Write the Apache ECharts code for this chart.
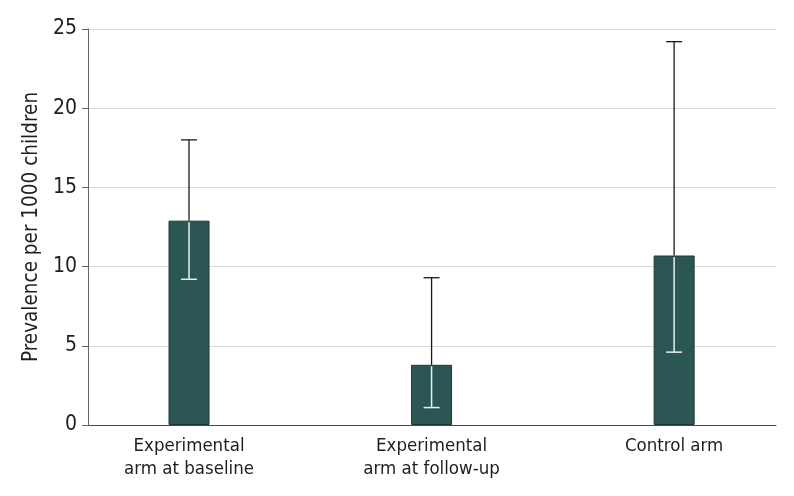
<!DOCTYPE html>
<html>
<head>
<meta charset="utf-8">
<script src="https://cdn.jsdelivr.net/npm/echarts@6/dist/echarts.min.js"></script>
<style>html,body{margin:0;padding:0;background:#fff}#c{width:794px;height:496px}</style>
</head>
<body>
<div id="c"></div>
<script>
const categories = ['Experimental\narm at baseline', 'Experimental\narm at follow-up', 'Control arm'];
const prevalence = [12.9, 3.8, 10.7];
const lowerCI = [9.2, 1.1, 4.6];
const upperCI = [18.0, 9.3, 24.2];
const yTicks = [0, 5, 10, 15, 20, 25];

const FONT = '"DejaVu Sans Condensed", "DejaVu Sans", sans-serif';
const chart = echarts.init(document.getElementById('c'), null, {renderer: 'canvas'});

const barData = prevalence.map((v, i) => [i, v]);
const errData = prevalence.map((v, i) => [i, v, lowerCI[i], upperCI[i]]);

chart.setOption({
  animation: false,
  backgroundColor: '#ffffff',
  grid: {left: 88, right: 18, top: 29, bottom: 71},
  xAxis: {
    type: 'value',
    min: -0.4165,
    max: 2.42,
    splitLine: {show: false},
    axisTick: {show: false},
    axisLine: {show: true, onZero: false, lineStyle: {color: '#4a4a4a', width: 1}},
    axisLabel: {
      customValues: [0, 1, 2],
      formatter: v => categories[Math.round(v)],
      fontFamily: FONT, fontSize: 18.5, color: '#1e1e1e', lineHeight: 23,
      margin: 10, verticalAlign: 'top'
    }
  },
  yAxis: {
    type: 'value',
    min: yTicks[0], max: yTicks[yTicks.length - 1], interval: 5,
    name: 'Prevalence per 1000 children',
    nameLocation: 'middle', nameRotate: 90, nameGap: 44,
    nameTextStyle: {fontFamily: FONT, fontSize: 20.5, color: '#1e1e1e'},
    axisLine: {show: true, onZero: false, lineStyle: {color: '#666', width: 1}},
    axisTick: {show: true, length: 6, lineStyle: {color: '#666'}},
    splitLine: {show: true, lineStyle: {color: '#d9d9d9', width: 1}},
    axisLabel: {fontFamily: FONT, fontSize: 21, color: '#1e1e1e', margin: 11}
  },
  series: [
    {
      type: 'bar',
      data: barData,
      barWidth: 41,
      itemStyle: {color: '#2b5654', borderColor: '#1d3634', borderWidth: 1},
      z: 2
    },
    {
      type: 'custom',
      data: errData,
      z: 5,
      renderItem: function (params, api) {
        const x = api.value(0);
        const top = api.coord([x, api.value(1)]);
        const lo = api.coord([x, api.value(2)]);
        const hi = api.coord([x, api.value(3)]);
        const hw = 8;
        const black = {stroke: '#1a1a1a', lineWidth: 1.3};
        const white = {stroke: '#e9f1ef', lineWidth: 1.5};
        return {
          type: 'group',
          children: [
            {type: 'line', shape: {x1: top[0], y1: top[1], x2: hi[0], y2: hi[1]}, style: black},
            {type: 'line', shape: {x1: hi[0] - hw, y1: hi[1], x2: hi[0] + hw, y2: hi[1]}, style: black},
            {type: 'line', shape: {x1: top[0], y1: top[1] + 1.5, x2: lo[0], y2: lo[1]}, style: white},
            {type: 'line', shape: {x1: lo[0] - hw, y1: lo[1], x2: lo[0] + hw, y2: lo[1]}, style: white}
          ]
        };
      }
    }
  ]
});
</script>
</body>
</html>
